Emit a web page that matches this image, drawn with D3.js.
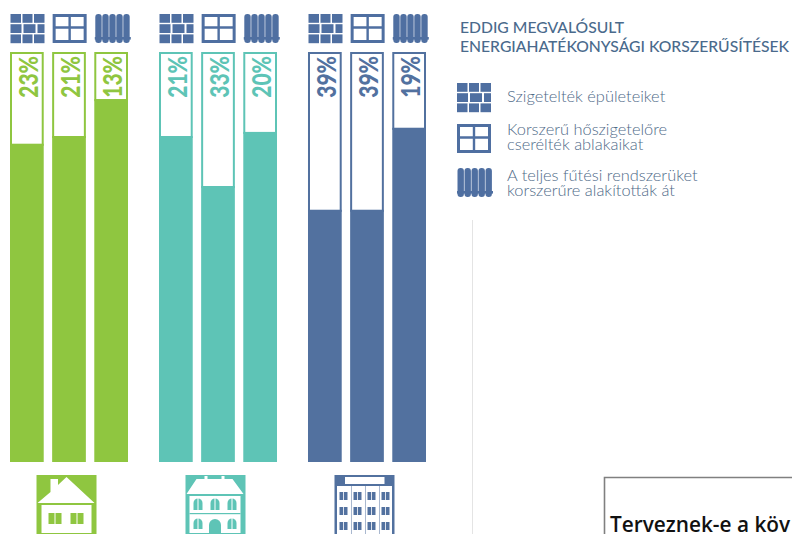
<!DOCTYPE html>
<html>
<head>
<meta charset="utf-8">
<script src="https://cdn.jsdelivr.net/npm/d3@7"></script>
<style>
body { margin: 0; background: #fff; }
text { font-family: Lato, "Open Sans", sans-serif; }
</style>
</head>
<body>
<div id="chart"></div>
<script>
const buildings = ["house", "villa", "block"];
const measures = ["brick", "window", "radiator"];
const labels = [
    ["23%", "21%", "13%"],
    ["21%", "33%", "20%"],
    ["39%", "39%", "19%"]
];
// white part of each column (does not follow the label exactly)
const emptyShare = [
    [22.4, 20.5, 11.5],
    [20.5, 32.7, 19.5],
    [38.5, 38.5, 18.5]
];
const colors = ["#8fc640", "#5ec4b6", "#52719f"];
const titleLines = ["EDDIG MEGVALÓSULT", "ENERGIAHATÉKONYSÁGI KORSZERŰSÍTÉSEK"];
const legendLines = [
    ["Szigetelték épületeiket"],
    ["Korszerű hőszigetelőre", "cserélték ablakaikat"],
    ["A teljes fűtési rendszerüket", "korszerűre alakították át"]
];
const iconBlue = "#4f6fa1";

const width = 792, height = 534;
const svg = d3.select("#chart").append("svg")
    .attr("width", width)
    .attr("height", height)
    .style("display", "block");

const xGroup = d3.scaleBand().domain(buildings).range([10, 426]).paddingInner(0.208);
const xBar = d3.scaleBand().domain(measures).range([0, xGroup.bandwidth()]).paddingInner(0.2);
const y = d3.scaleLinear().domain([0, 100]).range([52, 462]);

function drawBrick(g, color) {
    const rows = [[0, 10.5, 12, 10, 23.5, 10.5], [0, 11, 13, 12, 27, 7], [0, 10.5, 12, 10, 23.5, 10.5]];
    rows.forEach((row, r) => {
        for (let i = 0; i < row.length; i += 2) {
            g.append("rect")
                .attr("x", row[i])
                .attr("y", r * 10.2)
                .attr("width", row[i + 1])
                .attr("height", 8.8)
                .attr("fill", color);
        }
    });
}

function drawWindow(g, color) {
    g.append("rect").attr("x", 1.5).attr("y", 1.5).attr("width", 31).attr("height", 26)
        .attr("fill", "#fff").attr("stroke", color).attr("stroke-width", 3);
    g.append("path").attr("d", "M17,1V28M1,13.5H33")
        .attr("stroke", color).attr("stroke-width", 2.4);
}

function drawRadiator(g, color) {
    d3.range(5).forEach(i => {
        g.append("rect")
            .attr("x", 0.5 + i * 7)
            .attr("y", 0)
            .attr("width", 6.4)
            .attr("height", 29)
            .attr("rx", 3)
            .attr("fill", color);
    });
    g.append("rect").attr("x", 0).attr("y", 23).attr("width", 36).attr("height", 2.6).attr("fill", color);
}

const drawIcon = { brick: drawBrick, window: drawWindow, radiator: drawRadiator };

// columns and the little icons above them
buildings.forEach((b, bi) => {
    const group = svg.append("g").attr("transform", `translate(${xGroup(b)},0)`);
    const color = colors[bi];

    measures.forEach((m, mi) => {
        const x = xBar(m), w = xBar.bandwidth();
        const share = emptyShare[bi][mi];

        drawIcon[m](group.append("g").attr("transform", `translate(${x + 0.5},14)`), iconBlue);

        group.append("rect")
            .attr("x", x + 1).attr("y", y(0) + 1)
            .attr("width", w - 2).attr("height", y(share) - y(0))
            .attr("fill", "#fff")
            .attr("stroke", color).attr("stroke-width", 2);
        group.append("rect")
            .attr("x", x).attr("y", y(share))
            .attr("width", w).attr("height", y(100) - y(share))
            .attr("fill", color);

        group.append("text")
            .attr("transform", `translate(${x + w / 2 + 11},56) rotate(-90) scale(0.78,1)`)
            .attr("text-anchor", "end")
            .attr("font-size", 27)
            .attr("font-weight", 900)
            .attr("fill", color)
            .text(labels[bi][mi]);
    });
});

// building pictograms below the groups
function drawHouse(g, c) {
    g.append("path").attr("d", "M14,4H21.5V10L30,2L58,28H1L14,17Z").attr("fill", "#fff");
    g.append("rect").attr("x", 5).attr("y", 30).attr("width", 50).attr("height", 28).attr("fill", "#fff");
    [12, 34].forEach(x => {
        g.append("rect").attr("x", x).attr("y", 38).attr("width", 6).attr("height", 11).attr("fill", c);
        g.append("rect").attr("x", x + 7).attr("y", 38).attr("width", 6).attr("height", 11).attr("fill", c);
    });
}

function drawVilla(g, c) {
    g.append("path").attr("d", "M19,1H22V4H36V1H39V4H47L58,19H1L11,4H19Z").attr("fill", "#fff");
    g.append("rect").attr("x", 4).attr("y", 21).attr("width", 51).attr("height", 37).attr("fill", "#fff");
    g.append("rect").attr("x", 4).attr("y", 38).attr("width", 51).attr("height", 1.2).attr("fill", c);
    [8, 25, 42].forEach(x => {
        g.append("path").attr("d", `M${x},35V28a4.5,4.5 0 0 1 9,0V35Z`).attr("fill", c);
        g.append("rect").attr("x", x + 4).attr("y", 23).attr("width", 1).attr("height", 12).attr("fill", "#fff");
    });
    [8, 42].forEach(x => {
        g.append("path").attr("d", `M${x},54V48a4.5,4.5 0 0 1 9,0V54Z`).attr("fill", c);
        g.append("rect").attr("x", x + 4).attr("y", 43).attr("width", 1).attr("height", 11).attr("fill", "#fff");
    });
    g.append("path").attr("d", "M23.5,58V50a6,6 0 0 1 12,0V58Z").attr("fill", c);
}

function drawBlock(g, c) {
    g.append("rect").attr("x", 10.5).attr("y", 2).attr("width", 39.5).attr("height", 7).attr("fill", "#fff");
    g.append("rect").attr("x", 2.5).attr("y", 11).attr("width", 55).attr("height", 48).attr("fill", "#fff");
    [16.5, 30.5, 44.5].forEach(x => {
        g.append("rect").attr("x", x).attr("y", 11).attr("width", 0.5).attr("height", 48).attr("fill", c);
    });
    d3.range(4).forEach(col => {
        d3.range(3).forEach(row => {
            const px = 5 + col * 14, py = 17 + row * 15;
            g.append("rect").attr("x", px).attr("y", py).attr("width", 3.6).attr("height", 8).attr("fill", c);
            g.append("rect").attr("x", px + 4.4).attr("y", py).attr("width", 3.6).attr("height", 8).attr("fill", c);
        });
    });
}

const drawBuilding = { house: drawHouse, villa: drawVilla, block: drawBlock };
buildings.forEach((b, bi) => {
    const g = svg.append("g")
        .attr("transform", `translate(${xGroup(b) + xGroup.bandwidth() / 2 - 32.5},475)`);
    g.append("rect").attr("width", 60).attr("height", 60).attr("fill", colors[bi]);
    drawBuilding[b](g, colors[bi]);
});

// title and legend
svg.append("g").selectAll("text")
    .data(titleLines)
    .join("text")
    .attr("x", 460)
    .attr("y", (d, i) => 33 + i * 19)
    .attr("font-size", 15.7)
    .attr("font-weight", 500)
    .attr("fill", "#4a6a8c")
    .text(d => d);

const legendY = [83, 124, 168];
const legendTextY = [102, 135, 181];
measures.forEach((m, i) => {
    drawIcon[m](svg.append("g").attr("transform", `translate(457,${legendY[i]})`), iconBlue);
    svg.append("g").selectAll("text")
        .data(legendLines[i])
        .join("text")
        .attr("x", 507)
        .attr("y", (d, j) => legendTextY[i] + j * 15)
        .attr("font-size", 16.4)
        .attr("font-weight", 300)
        .attr("fill", "#4f6a88")
        .text(d => d);
});

// divider and the cut-off box from the neighbouring chart
svg.append("line")
    .attr("x1", 472.5).attr("x2", 472.5).attr("y1", 220).attr("y2", height)
    .attr("stroke", "#e4e4e4");
svg.append("path")
    .attr("d", `M${width},477.5H604.5V${height}`)
    .attr("fill", "none")
    .attr("stroke", "#808080")
    .attr("stroke-width", 1.6);
svg.append("text")
    .attr("x", 610).attr("y", 532)
    .style("font-family", "'Open Sans', sans-serif")
    .attr("font-size", 20.8)
    .attr("font-weight", 600)
    .attr("fill", "#111")
    .text("Terveznek-e a köv");
</script>
</body>
</html>
